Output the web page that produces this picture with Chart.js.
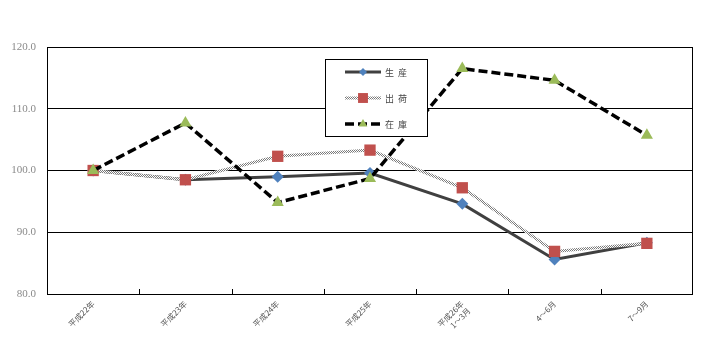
<!DOCTYPE html>
<html>
<head>
<meta charset="utf-8">
<script src="https://cdn.jsdelivr.net/npm/chart.js@4/dist/chart.umd.min.js"></script>
<style>
html,body{margin:0;padding:0;background:#fff;}
canvas{display:block;}
</style>
</head>
<body>
<canvas id="c" width="701" height="351"></canvas>
<script>
const categories = ["平成22年", "平成23年", "平成24年", "平成25年", ["平成26年", "1～3月"], "4～6月", "7～9月"];
const seriesNames = ["生産", "出荷", "在庫"];
const production = [100.0, 98.5, 99.0, 99.6, 94.6, 85.6, 88.3];
const shipment = [100.0, 98.5, 102.3, 103.3, 97.2, 86.9, 88.2];
const inventory = [100.0, 107.7, 94.8, 98.7, 116.5, 114.6, 105.7];
const yTicks = [80, 90, 100, 110, 120];

function makePattern() {
  const p = document.createElement('canvas');
  p.width = 2; p.height = 2;
  const g = p.getContext('2d');
  g.fillStyle = '#ffffff'; g.fillRect(0, 0, 2, 2);
  g.fillStyle = '#7a7a7a'; g.fillRect(0, 0, 1, 1); g.fillRect(1, 1, 1, 1);
  return document.getElementById('c').getContext('2d').createPattern(p, 'repeat');
}
const hatch = makePattern();

const legendPlugin = {
  id: 'boxLegend',
  afterDatasetsDraw(chart) {
    const ctx = chart.ctx;
    const a = chart.chartArea;
    ctx.save();
    ctx.strokeStyle = '#000'; ctx.lineWidth = 1;
    ctx.strokeRect(Math.round(a.left) + 0.5, Math.round(a.top) + 0.5, Math.round(a.right - a.left) - 1, Math.round(a.bottom - a.top));
    const xs = chart.scales.x;
    const n = categories.length;
    for (let i = 1; i < n; i++) {
      const x = Math.round(xs.left + i * (xs.right - xs.left) / n) + 0.5;
      ctx.beginPath(); ctx.moveTo(x, a.bottom); ctx.lineTo(x, a.bottom - 5); ctx.stroke();
    }
    const bx = 325, by = 59, bw = 102, bh = 77;
    ctx.fillStyle = '#fff';
    ctx.fillRect(bx, by, bw, bh);
    ctx.strokeRect(bx + 0.5, by + 0.5, bw, bh);
    const rows = [72, 98, 124];
    [0, 1, 2].forEach((di, k) => {
      const ds = chart.data.datasets.find(d => d.label === seriesNames[di]);
      const y = rows[k];
      ctx.save();
      ctx.strokeStyle = ds.borderColor;
      ctx.lineWidth = ds.borderWidth;
      ctx.setLineDash(ds.borderDash || []);
      ctx.beginPath(); ctx.moveTo(345, y); ctx.lineTo(381, y); ctx.stroke();
      ctx.restore();
      ctx.save();
      ctx.fillStyle = ds.pointBackgroundColor;
      ctx.strokeStyle = ds.pointBackgroundColor;
      Chart.helpers.drawPoint(ctx, {pointStyle: ds.pointStyle, radius: ds.legendRadius, rotation: 0, borderWidth: 0}, 363, y);
      ctx.restore();
      ctx.fillStyle = '#444';
      ctx.font = '9px "Noto Sans CJK JP"';
      ctx.textBaseline = 'middle';
      const txt = seriesNames[di];
      for (let j = 0; j < txt.length; j++) ctx.fillText(txt[j], 385 + j * 13, y + 1);
    });
    ctx.restore();
  }
};

new Chart(document.getElementById('c'), {
  type: 'line',
  data: {
    labels: categories,
    datasets: [
      {
        label: seriesNames[2], data: inventory, order: 0,
        borderColor: '#000', borderWidth: 3.5, borderDash: [9, 4],
        pointStyle: 'triangle', pointRadius: 7, legendRadius: 5,
        pointBackgroundColor: '#9BBB59', pointBorderColor: '#9BBB59', pointBorderWidth: 0,
        tension: 0, fill: false
      },
      {
        label: seriesNames[1], data: shipment, order: 1,
        borderColor: hatch, borderWidth: 3,
        pointStyle: 'rect', pointRadius: 8, legendRadius: 7,
        pointBackgroundColor: '#C0504D', pointBorderColor: '#C0504D', pointBorderWidth: 0,
        tension: 0, fill: false
      },
      {
        label: seriesNames[0], data: production, order: 2,
        borderColor: '#404040', borderWidth: 3,
        pointStyle: 'rectRot', pointRadius: 6, legendRadius: 4,
        pointBackgroundColor: '#4F81BD', pointBorderColor: '#4F81BD', pointBorderWidth: 0,
        tension: 0, fill: false
      }
    ]
  },
  options: {
    responsive: false,
    animation: false,
    layout: { padding: { top: 47, right: 4, left: 0, bottom: 0 } },
    plugins: { legend: { display: false }, tooltip: { enabled: false }, title: { display: false } },
    scales: {
      x: {
        offset: true,
        grid: { display: false, drawTicks: false },
        border: { display: false },
        ticks: {
          minRotation: 45, maxRotation: 45, autoSkip: false,
          font: { family: '"Noto Sans CJK JP"', size: 8 }, color: '#555', padding: 5
        },
        afterFit(s) { s.height = 57; }
      },
      y: {
        min: 80, max: 120,
        afterBuildTicks(s) { s.ticks = yTicks.map(v => ({ value: v })); },
        grid: { color: '#000', lineWidth: 1, drawTicks: false },
        border: { display: false },
        ticks: {
          font: { family: '"Liberation Serif"', size: 11 }, color: '#8a8a8a', padding: 11,
          callback: v => Number(v).toFixed(1)
        },
        afterFit(s) { s.width = 47; }
      }
    }
  },
  plugins: [legendPlugin]
});
</script>
</body>
</html>
